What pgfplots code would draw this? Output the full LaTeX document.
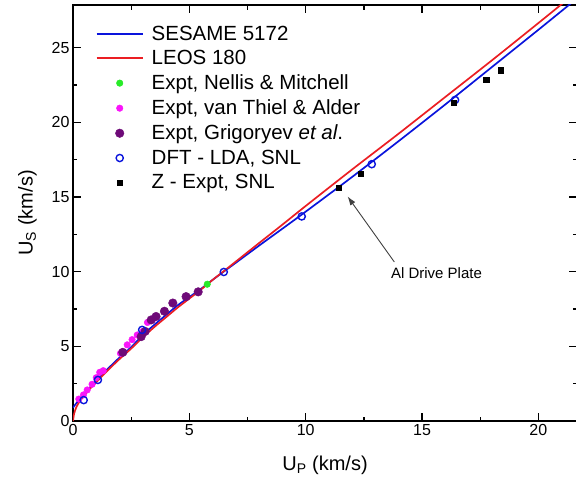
\documentclass[border=0pt]{standalone}
\usepackage{pgfplots}
\pgfplotsset{compat=1.18}
\usepackage{fontspec}
\setmainfont{Liberation Sans}
\usetikzlibrary{arrows.meta}
\definecolor{cblue}{RGB}{10,20,220}
\definecolor{cred}{RGB}{235,30,35}
\definecolor{cgreen}{RGB}{40,235,40}
\definecolor{cmag}{RGB}{250,20,250}
\definecolor{cpurp}{RGB}{110,10,120}
\pgfplotsset{
  lineleg/.style={legend image code/.code={\path[draw=none,fill=none] (0pt,-7pt) rectangle (53pt,7pt); \draw[##1] (0pt,0pt) -- (46pt,0pt);}},
  markleg/.style={legend image code/.code={\path[draw=none,fill=none] (0pt,-7pt) rectangle (53pt,7pt); \draw[##1] plot coordinates {(23pt,0pt)};}},
}
\begin{document}
\begin{tikzpicture}
\useasboundingbox (-73pt,-70pt) rectangle (503pt,421pt);
\begin{axis}[
  at={(0,0)}, anchor=south west,
  scale only axis, width=504pt, height=416pt,
  xmin=0, xmax=21.66, ymin=0, ymax=27.86,
  xtick={0,5,...,20}, ytick={0,5,...,25},
  minor x tick num=1, minor y tick num=1,
  tick align=inside,
  major tick length=8pt, minor tick length=4.5pt,
  every tick/.style={black, line width=1.3pt},
  axis line style={line width=1.6pt},
  tick label style={font=\fontsize{16}{18}\selectfont},
  /pgf/number format/assume math mode=true,
  xlabel={U\textsubscript{P} (km/s)},
  ylabel={U\textsubscript{S} (km/s)},
  label style={font=\fontsize{20}{24}\selectfont},
  xlabel style={yshift=-13pt},
  ylabel style={yshift=8pt},
  legend style={draw=none, fill=none, at={(0.045,0.955)}, anchor=north west,
    font=\fontsize{20.5}{24}\selectfont, row sep=4.7pt, inner sep=0pt},
  legend cell align=left,
  clip=true,
]
% van Thiel & Alder
\addplot[forget plot, only marks, mark=*, mark size=3.3pt, cmag] coordinates {
(0.25,1.47) (0.45,1.75) (0.61,2.08) (0.82,2.46) (1.0,2.9) (1.15,3.26) (1.3,3.37)
(2.04,4.53) (2.33,5.1) (2.54,5.45) (2.76,5.76) (3.0,6.0) (3.2,6.6) (3.45,6.85)};
% Grigoryev
\addplot[forget plot, only marks, mark=*, mark size=4.3pt, cpurp] coordinates {
(2.14,4.6) (2.93,5.65) (3.1,6.0) (3.36,6.77) (3.57,7.0) (3.93,7.35) (4.29,7.9) (4.86,8.33) (5.38,8.65)};
% Nellis & Mitchell
\addplot[forget plot, only marks, mark=*, mark size=3.3pt, cgreen] coordinates {
(5.77,9.16)};
% SESAME 5172
\addplot[forget plot, cblue, line width=1.7pt, smooth] coordinates {
(0,0.9) (0.25,1.4) (0.5,1.85) (1,2.7) (1.5,3.5) (2,4.25) (2.5,4.95) (3,5.75) (3.5,6.45)
(4,7.1) (4.5,7.75) (5,8.3) (5.5,8.85) (6,9.45) (6.5,10.03) (7,10.6) (8,11.75) (9,12.88)
(10,14.02) (12,16.35) (14,18.75) (16,21.2) (18,23.7) (20,26.2) (21.7,28.35)};
% LEOS 180
\addplot[forget plot, cred, line width=1.7pt, smooth] coordinates {
(0,0) (0.05,0.5) (0.15,0.95) (0.3,1.35) (0.5,1.75) (0.75,2.2) (1,2.6) (1.5,3.4) (2,4.15)
(2.5,4.85) (3,5.6) (3.5,6.3) (4,6.95) (4.5,7.6) (5,8.2) (5.5,8.8) (6,9.45) (6.5,10.06)
(7,10.68) (8,11.92) (9,13.15) (10,14.4) (12,16.85) (14,19.25) (16,21.7) (18,24.15) (20,26.65) (21.7,28.8)};
% DFT
\addplot[forget plot, only marks, mark=o, mark size=3.6pt, cblue, line width=1.4pt] coordinates {
(0.46,1.4) (1.07,2.75) (2.97,6.1) (6.48,9.98) (9.83,13.7) (12.84,17.2) (16.42,21.5)};
% Z expt
\addplot[forget plot, only marks, mark=square*, mark size=2.6pt, black] coordinates {
(11.41,15.6) (12.38,16.55) (16.37,21.3) (17.76,22.85) (18.37,23.5)};
% legend
\addlegendimage{draw=cblue, color=cblue, line width=1.7pt, lineleg}
\addlegendentry{SESAME 5172}
\addlegendimage{draw=cred, color=cred, line width=1.7pt, lineleg}
\addlegendentry{LEOS 180}
\addlegendimage{only marks, mark=*, mark size=3.3pt, cgreen, markleg}
\addlegendentry{Expt, Nellis \& Mitchell}
\addlegendimage{only marks, mark=*, mark size=3.3pt, cmag, markleg}
\addlegendentry{Expt, van Thiel \& Alder}
\addlegendimage{only marks, mark=*, mark size=4.3pt, cpurp, markleg}
\addlegendentry{Expt, Grigoryev \textit{et al}.}
\addlegendimage{only marks, mark=o, mark size=3.6pt, cblue, line width=1.4pt, markleg}
\addlegendentry{DFT - LDA, SNL}
\addlegendimage{only marks, mark=square*, mark size=2.6pt, black, markleg}
\addlegendentry{Z - Expt, SNL}
\draw[-{Latex[length=9pt,width=6pt]}, line width=0.9pt, black!75] (axis cs:13.81,10.65) -- (axis cs:11.8,15.04);
\node[font=\fontsize{15}{18}\selectfont] at (axis cs:15.62,9.9) {Al Drive Plate};
\end{axis}
\end{tikzpicture}
\end{document}
